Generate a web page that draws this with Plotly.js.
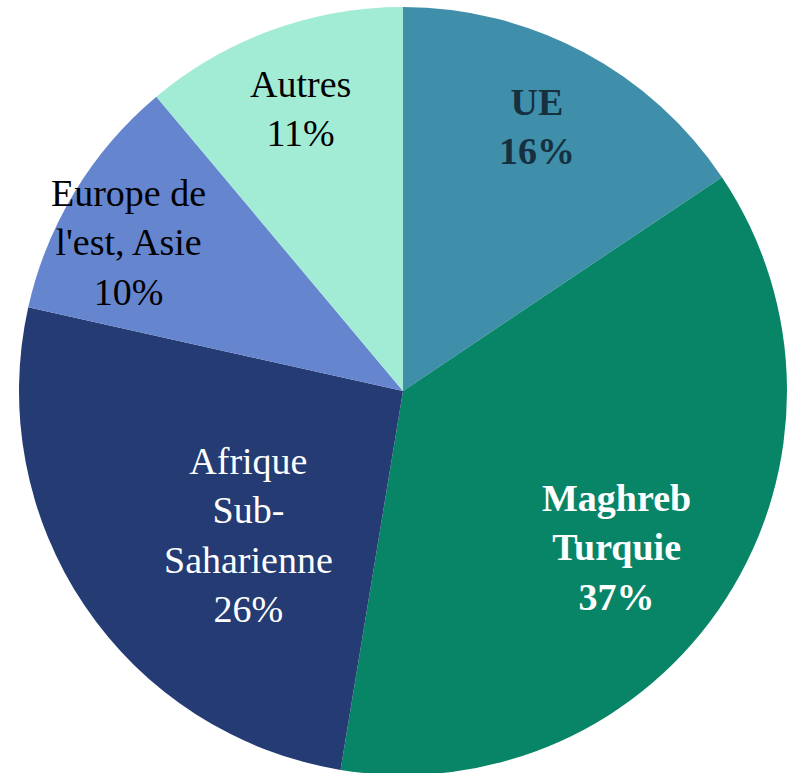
<!DOCTYPE html>
<html><head><meta charset="utf-8">
<script src="https://cdn.plot.ly/plotly-3.0.1.min.js"></script>
<style>html,body{margin:0;padding:0;background:#fff;overflow:hidden;}#wrap{width:793px;height:773px;overflow:hidden;}</style>
</head><body><div id="wrap"><div id="chart"></div></div>
<script>
// Data
const categories = ["UE", "Maghreb Turquie", "Afrique Sub-Saharienne", "Europe de l'est, Asie", "Autres"];
const displayLabels = ["UE", "Maghreb<br>Turquie", "Afrique<br>Sub-<br>Saharienne", "Europe de<br>l'est, Asie", "Autres"];
const values = [15.6, 37.0, 25.9, 10.4, 11.1];

// Styles
const colors = ["#3f8fab", "#088567", "#243b73", "#6585cf", "#a2ecd6"];
const textColors = ["#16303f", "#ffffff", "#ffffff", "#000000", "#000000"];
const bold = [true, true, false, false, false];
const labelRadius = [0.773, 0.690, 0.551, 0.8125, 0.784];
const labelAngleNudge = [-1.3, 3.5, -8.9, -3.0, 0];

const W = 793, H = 775;
const margin = {l: 19, r: 6, t: 7, b: 0};
const pw = W - margin.l - margin.r, ph = H - margin.t - margin.b;
const cx = margin.l + pw / 2;
const cy = margin.t + ph / 2;
const R = Math.min(pw, ph) / 2;

const total = values.reduce((a, b) => a + b, 0);
let cum = 0;
const annotations = values.map((v, i) => {
  const mid = (cum + v / 2) / total * 360 + labelAngleNudge[i];
  cum += v;
  const a = mid * Math.PI / 180;
  const px = cx + Math.sin(a) * R * labelRadius[i];
  const py = cy - Math.cos(a) * R * labelRadius[i];
  let txt = displayLabels[i] + "<br>" + Math.round(v / total * 100) + "%";
  if (bold[i]) txt = "<b>" + txt + "</b>";
  return {
    x: (px - margin.l) / pw, y: 1 - (py - margin.t) / ph, xref: "paper", yref: "paper",
    xanchor: "center", yanchor: "middle", showarrow: false,
    text: txt, align: "center",
    font: {family: "Liberation Serif, serif", size: 38, color: textColors[i]}
  };
});

const data = [{
  type: "pie",
  labels: categories,
  values: values,
  sort: false,
  direction: "clockwise",
  rotation: 0,
  marker: {colors: colors, line: {width: 0}},
  textinfo: "none",
  hoverinfo: "label+percent",
  showlegend: false
}];

const layout = {
  width: W, height: H,
  margin: margin,
  paper_bgcolor: "#ffffff",
  plot_bgcolor: "#ffffff",
  showlegend: false,
  annotations: annotations
};

Plotly.newPlot("chart", data, layout, {displayModeBar: false, staticPlot: true});
</script>
</body></html>
